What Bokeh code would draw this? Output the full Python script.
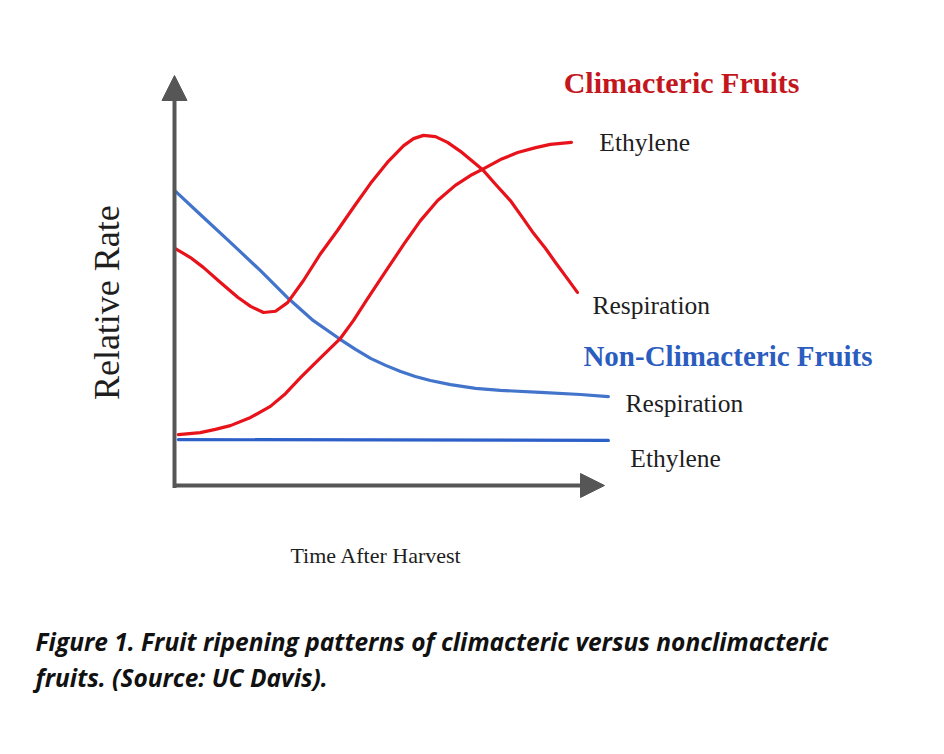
from bokeh.plotting import figure
from bokeh.models import Range1d, Label, Arrow, NormalHead
from bokeh.embed import file_html
from bokeh.resources import INLINE

# ---- data (time after harvest, relative rate) ----
clim_resp_t = [0.02, 0.37, 0.67, 1.07, 1.47, 1.77, 2.07, 2.35, 2.63, 3.00, 3.40, 3.79,
               4.16, 4.56, 4.95, 5.33, 5.56, 5.79, 6.07, 6.35, 6.65, 6.88, 7.16, 7.47,
               7.81, 8.09, 8.35, 8.63, 8.86, 9.12, 9.37]
clim_resp_r = [5.78, 5.56, 5.32, 4.95, 4.59, 4.37, 4.22, 4.25, 4.46, 5.00, 5.66, 6.22,
               6.78, 7.37, 7.88, 8.29, 8.46, 8.54, 8.51, 8.37, 8.15, 7.95, 7.71, 7.34,
               6.95, 6.54, 6.15, 5.78, 5.44, 5.07, 4.71]

clim_eth_t = [0.09, 0.60, 0.95, 1.30, 1.77, 2.23, 2.58, 2.93, 3.40, 3.86, 4.16, 4.49,
              4.91, 5.33, 5.72, 6.12, 6.53, 6.88, 7.16, 7.58, 7.98, 8.40, 8.74, 9.23]
clim_eth_r = [1.24, 1.29, 1.37, 1.46, 1.66, 1.93, 2.24, 2.63, 3.12, 3.59, 4.02, 4.56,
              5.22, 5.88, 6.46, 6.95, 7.32, 7.56, 7.71, 7.95, 8.12, 8.24, 8.32, 8.37]

non_resp_t = [0.00, 0.60, 1.30, 2.00, 2.65, 3.23, 3.86, 4.21, 4.56, 4.91, 5.26, 5.60,
              5.95, 6.42, 7.00, 7.58, 8.51, 9.44, 10.09]
non_resp_r = [7.20, 6.61, 5.93, 5.24, 4.56, 4.02, 3.56, 3.32, 3.10, 2.93, 2.78, 2.66,
              2.56, 2.46, 2.37, 2.32, 2.27, 2.22, 2.17]

non_eth_t = [0.09, 10.09]
non_eth_r = [1.12, 1.10]

titles = ["Climacteric Fruits", "Non-Climacteric Fruits"]
series_labels = ["Ethylene", "Respiration", "Respiration", "Ethylene"]
x_title = "Time After Harvest"
y_title = "Relative Rate"
caption = ["Figure 1. Fruit ripening patterns of climacteric versus nonclimacteric",
           "fruits. (Source: UC Davis)."]

RED = "#e8121a"
BLUE = "#4274cc"
BLUE2 = "#2d5fc8"
AXIS = "#565656"
SERIF = "Liberation Serif"

p = figure(width=928, height=738, output_backend="svg", toolbar_location=None,
           x_range=Range1d(-174 / 43, (928 - 174) / 43),
           y_range=Range1d((485 - 738) / 41, 485 / 41),
           x_axis_type=None, y_axis_type=None, min_border=0)
p.grid.visible = False
p.outline_line_color = None
p.background_fill_color = "white"
p.border_fill_color = "white"

# axes with arrow heads
p.add_layout(Arrow(x_start=0, y_start=-0.06, x_end=0, y_end=10,
                   line_color=AXIS, line_width=4,
                   end=NormalHead(size=25, fill_color=AXIS, line_color=AXIS, line_width=1)))
p.add_layout(Arrow(x_start=0, y_start=0, x_end=10.0, y_end=0,
                   line_color=AXIS, line_width=4,
                   end=NormalHead(size=24, fill_color=AXIS, line_color=AXIS, line_width=1)))

# curves
kw = dict(line_width=3.2, line_join="round", line_cap="round")
p.line(non_eth_t, non_eth_r, line_color=BLUE2, **kw)
p.line(non_resp_t, non_resp_r, line_color=BLUE, **kw)
p.line(clim_eth_t, clim_eth_r, line_color=RED, **kw)
p.line(clim_resp_t, clim_resp_r, line_color=RED, **kw)

def lab(x, y, text, size, color="#1e1e1e", bold=False, font=SERIF, align="left",
        angle=0, style=None):
    p.add_layout(Label(x=x, y=y, text=text, text_font=font,
                       text_font_size=f"{size}px", text_color=color,
                       text_font_style=style or ("bold" if bold else "normal"),
                       text_align=align, text_baseline="middle", angle=angle))

lab(9.05, 9.83, titles[0], 30, color="#c3161d", bold=True)
lab(9.88, 8.37, series_labels[0], 25.5)
lab(9.72, 4.39, series_labels[1], 25.5)
lab(9.51, 3.17, titles[1], 29, color="#2b5cc0", bold=True)
lab(10.49, 2.00, series_labels[2], 25.5)
lab(10.60, 0.66, series_labels[3], 25.5)
lab(4.69, -1.71, x_title, 22, align="center")
lab(-1.58, 4.46, y_title, 36, align="center", angle=1.5707963)

lab(-3.23, -3.80, caption[0], 24.5, color="#111111", font="Open Sans", style="bold italic")
lab(-3.23, -4.68, caption[1], 24.5, color="#111111", font="Open Sans", style="bold italic")

open("out.html", "w").write(file_html(p, INLINE))
